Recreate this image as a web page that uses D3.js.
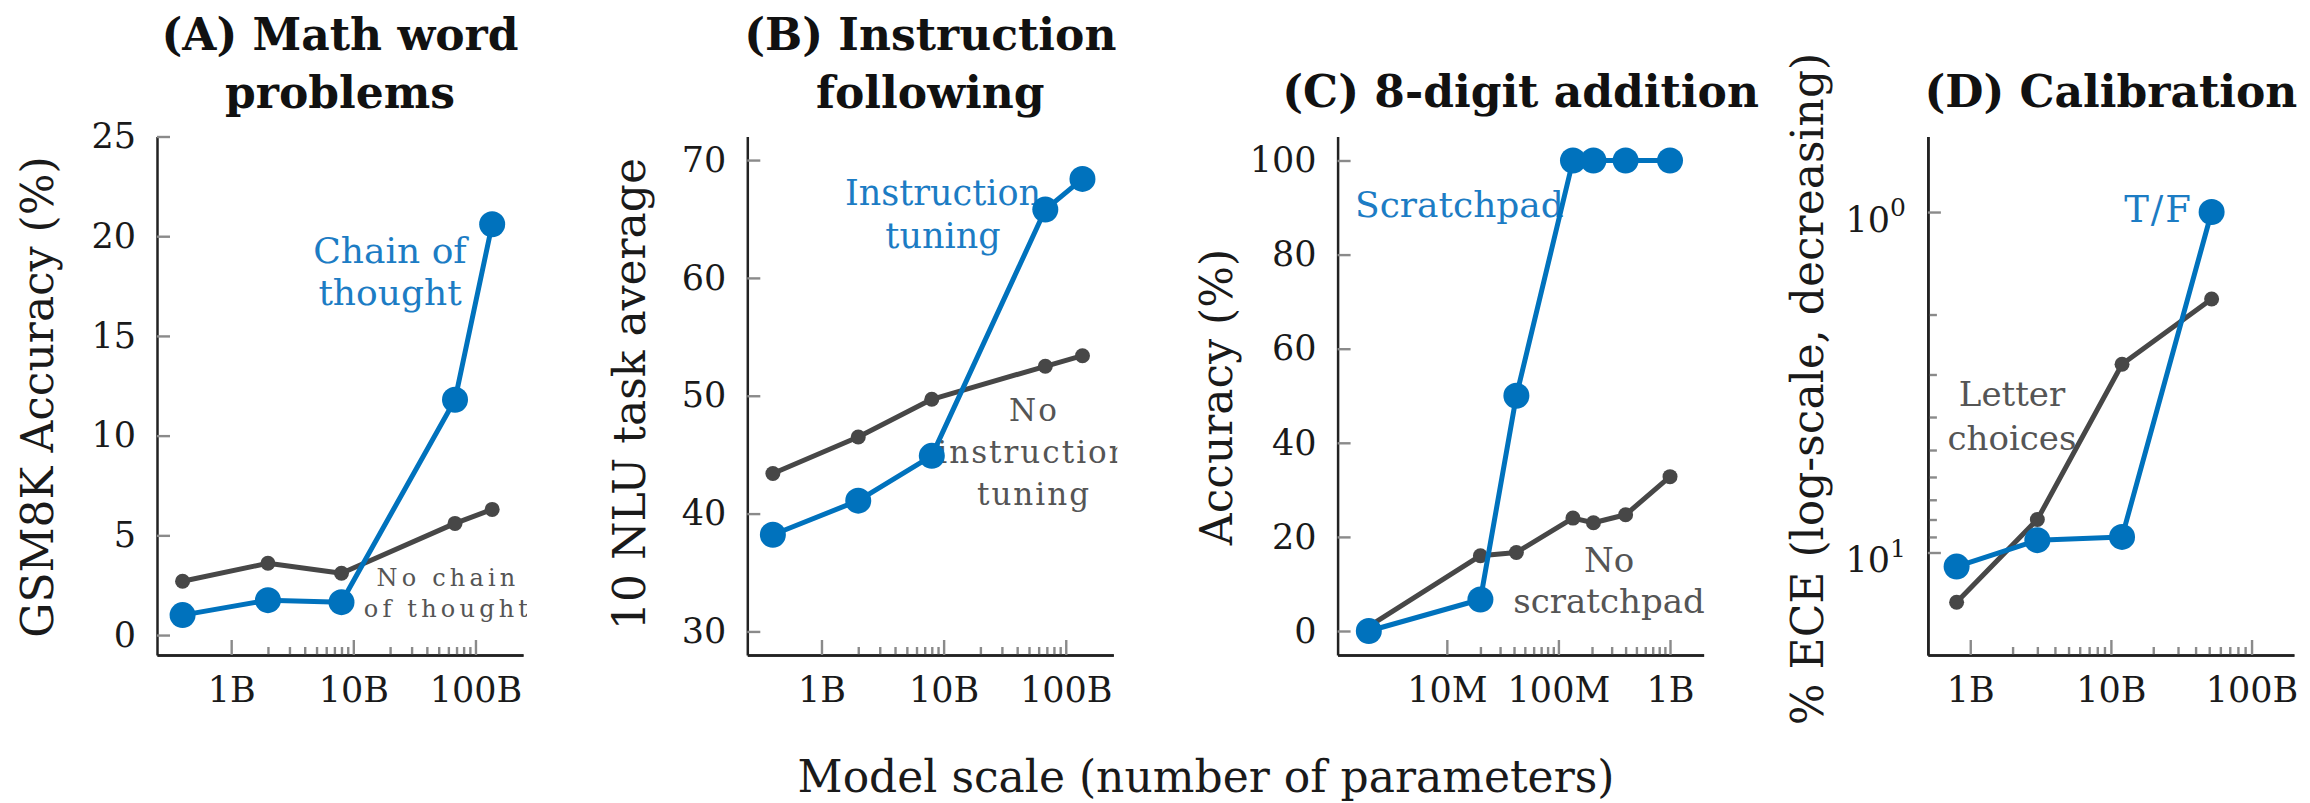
<!DOCTYPE html>
<html>
<head>
<meta charset="utf-8">
<script src="https://cdn.jsdelivr.net/npm/d3@7"></script>
<style>
  html, body { margin: 0; padding: 0; background: #fff; }
  svg { display: block; }
  text { font-family: "DejaVu Serif", serif; }
</style>
</head>
<body>
<svg id="fig" width="2310" height="803"></svg>
<script>
// ---------------- data ----------------
// (A) GSM8K accuracy vs LaMDA model size
const lamdaParams = [0.4e9, 2e9, 8e9, 68e9, 137e9];
const gsm8kChainOfThought = [1.0, 1.75, 1.65, 11.8, 20.6];
const gsm8kNoChainOfThought = [2.7, 3.6, 3.1, 5.6, 6.3];

// (B) average over 10 NLU tasks
const nluInstructionTuning = [38.2, 41.1, 44.9, 65.8, 68.4];
const nluNoInstructionTuning = [43.4, 46.5, 49.7, 52.5, 53.4];

// (C) 8-digit addition accuracy
const additionParams = [2e6, 2e7, 4.2e7, 1.35e8, 2.06e8, 4e8, 1e9];
const additionScratchpad = [0, 6.7, 50, 100, 100, 100, 100];
const additionNoScratchpad = [1, 16, 16.7, 24, 23, 24.7, 32.8];

// (D) calibration (% ECE, lower is better)
const calibrationParams = [0.8e9, 3e9, 12e9, 52e9];
const calibrationTrueFalse = [11.0, 9.2, 9.0, 1.0];
const calibrationLetterChoices = [14.0, 8.0, 2.8, 1.8];

// tick values and labels
const billionTicks = [1e9, 1e10, 1e11];
const billionTickLabels = ["1B", "10B", "100B"];
const millionTicks = [1e7, 1e8, 1e9];
const millionTickLabels = ["10M", "100M", "1B"];
const gsm8kTicks = [0, 5, 10, 15, 20, 25];
const nluTicks = [30, 40, 50, 60, 70];
const additionTicks = [0, 20, 40, 60, 80, 100];
const eceTicks = [1, 10];
const eceTickExponents = ["0", "1"];

// ---------------- styling ----------------
const BLUE = "#0072BD";
const BLUE_TEXT = "#1c7cc4";
const GRAY = "#474747";
const GRAY_TEXT = "#555555";
const INK = "#1a1a1a";
const TOP = 136.5, BOTTOM = 655, PANEL_W = 366;
const panelLeft = i => 157 + i * 590.3;

const panels = [
  {
    title: ["(A) Math word", "problems"],
    ylabel: "GSM8K Accuracy (%)", ylabelX: 53, ylabelY: 397,
    xDomain: [2.47e8, 2.45e11], xTicks: billionTicks, xTickLabels: billionTickLabels,
    yDomain: [-1, 25], yTicks: gsm8kTicks,
    params: lamdaParams, blue: gsm8kChainOfThought, gray: gsm8kNoChainOfThought,
    notes: [
      { lines: ["Chain of", "thought"], x: 390, y: [263, 305], size: 36, color: BLUE_TEXT, anchor: "middle", spacing: 0 },
      { lines: ["No chain", "of thought"], x: 448, y: [586, 617], size: 24, color: GRAY_TEXT, anchor: "middle", spacing: 4.2 }
    ]
  },
  {
    title: ["(B) Instruction", "following"],
    ylabel: "10 NLU task average", ylabelX: 645, ylabelY: 394,
    xDomain: [2.47e8, 2.45e11], xTicks: billionTicks, xTickLabels: billionTickLabels,
    yDomain: [28, 72], yTicks: nluTicks,
    params: lamdaParams, blue: nluInstructionTuning, gray: nluNoInstructionTuning,
    notes: [
      { lines: ["Instruction", "tuning"], x: 943, y: [205, 248], size: 35, color: BLUE_TEXT, anchor: "middle", spacing: 0 },
      { lines: ["No", "instruction", "tuning"], x: 1034, y: [421, 463, 505], size: 31, color: GRAY_TEXT, anchor: "middle", spacing: 2 }
    ]
  },
  {
    title: ["(C) 8-digit addition"],
    ylabel: "Accuracy (%)", ylabelX: 1232, ylabelY: 397,
    xDomain: [1.05e6, 2e9], xTicks: millionTicks, xTickLabels: millionTickLabels,
    yDomain: [-5.1, 105.1], yTicks: additionTicks,
    params: additionParams, blue: additionScratchpad, gray: additionNoScratchpad,
    notes: [
      { lines: ["Scratchpad"], x: 1355, y: [217], size: 36, color: BLUE_TEXT, anchor: "start", spacing: 0 },
      { lines: ["No", "scratchpad"], x: 1609, y: [572, 613], size: 34, color: GRAY_TEXT, anchor: "middle", spacing: 0 }
    ]
  },
  {
    title: ["(D) Calibration"],
    ylabel: "% ECE (log-scale, decreasing)", ylabelX: 1823, ylabelY: 389,
    xDomain: [5e8, 2e11], xTicks: billionTicks, xTickLabels: billionTickLabels,
    yLog: true, yDomain: [0.6, 20], yTicks: eceTicks,
    params: calibrationParams, blue: calibrationTrueFalse, gray: calibrationLetterChoices,
    notes: [
      { lines: ["T/F"], x: 2193, y: [222], size: 37, color: BLUE_TEXT, anchor: "end", spacing: 2 },
      { lines: ["Letter", "choices"], x: 2012, y: [406, 450], size: 34, color: GRAY_TEXT, anchor: "middle", spacing: 0 }
    ]
  }
];

const svg = d3.select("#fig");
const defs = svg.append("defs");

// minor ticks 2..9 within each decade between the first and last major tick
function minorTicks(majors) {
  const out = [];
  for (let i = 0; i < majors.length - 1; i++)
    for (let k = 2; k <= 9; k++) out.push(majors[i] * k);
  return out;
}

function styleAxis(g) {
  g.select(".domain").attr("stroke", "#222").attr("stroke-width", 2.5);
  g.selectAll(".tick line").attr("stroke", "#8a8a8a").attr("stroke-width", 2.4);
  g.selectAll(".tick text")
    .style("font-family", '"DejaVu Serif", serif')
    .style("font-size", "35px")
    .attr("fill", INK);
}

panels.forEach((p, i) => {
  const left = panelLeft(i), right = left + PANEL_W;
  const x = d3.scaleLog().domain(p.xDomain).range([left, right]);
  const y = p.yLog
    ? d3.scaleLog().domain(p.yDomain).range([TOP, BOTTOM])
    : d3.scaleLinear().domain(p.yDomain).range([BOTTOM, TOP]);

  const panel = svg.append("g").attr("class", "panel");

  // title
  const tx = (left + right) / 2;
  const titleBase = p.title.length === 2 ? [50, 108] : [107];
  p.title.forEach((line, k) => {
    panel.append("text")
      .attr("x", tx).attr("y", titleBase[k])
      .attr("text-anchor", "middle")
      .attr("font-weight", "bold")
      .attr("font-size", 44)
      .attr("fill", "#111")
      .text(line);
  });

  // y label
  panel.append("text")
    .attr("transform", `translate(${p.ylabelX},${p.ylabelY}) rotate(-90)`)
    .attr("text-anchor", "middle")
    .attr("font-size", 44)
    .attr("fill", INK)
    .text(p.ylabel);

  // x axis: minor ticks, then major ticks with labels
  panel.append("g")
    .attr("transform", `translate(0,${BOTTOM})`)
    .call(d3.axisBottom(x).tickValues(minorTicks(p.xTicks)).tickFormat("")
      .tickSizeInner(-8).tickSizeOuter(0))
    .call(styleAxis);
  panel.append("g")
    .attr("transform", `translate(0,${BOTTOM})`)
    .call(d3.axisBottom(x).tickValues(p.xTicks).tickFormat((d, k) => p.xTickLabels[k])
      .tickSizeInner(-15).tickSizeOuter(0).tickPadding(22))
    .call(styleAxis);

  // y axis
  if (p.yLog) {
    panel.append("g")
      .attr("transform", `translate(${left},0)`)
      .call(d3.axisLeft(y).tickValues(minorTicks(p.yTicks)).tickFormat("")
        .tickSizeInner(-9).tickSizeOuter(0))
      .call(styleAxis);
    const gy = panel.append("g")
      .attr("transform", `translate(${left},0)`)
      .call(d3.axisLeft(y).tickValues(p.yTicks).tickFormat("")
        .tickSizeInner(-13).tickSizeOuter(0).tickPadding(22))
      .call(styleAxis);
    gy.selectAll(".tick text").each(function (d, k) {
      const t = d3.select(this).attr("dy", "0.55em");
      t.append("tspan").text("10");
      t.append("tspan").attr("dy", "-0.62em").style("font-size", "25px").text(eceTickExponents[k]);
    });
  } else {
    panel.append("g")
      .attr("transform", `translate(${left},0)`)
      .call(d3.axisLeft(y).tickValues(p.yTicks).tickSizeInner(-13).tickSizeOuter(0).tickPadding(21))
      .call(styleAxis);
  }

  // annotations, clipped to the plotting area
  const clipId = `clip-${i}`;
  defs.append("clipPath").attr("id", clipId)
    .append("rect").attr("x", left).attr("y", 0).attr("width", PANEL_W + 4).attr("height", BOTTOM);
  const notes = panel.append("g").attr("clip-path", `url(#${clipId})`);
  p.notes.forEach(n => {
    n.lines.forEach((line, k) => {
      notes.append("text")
        .attr("x", n.x).attr("y", n.y[k])
        .attr("text-anchor", n.anchor)
        .attr("font-size", n.size)
        .attr("letter-spacing", n.spacing)
        .attr("fill", n.color)
        .text(line);
    });
  });

  // series
  const drawSeries = (values, color, r) => {
    const pts = p.params.map((v, k) => [v, values[k]]);
    panel.append("path")
      .attr("d", d3.line().x(d => x(d[0])).y(d => y(d[1]))(pts))
      .attr("fill", "none").attr("stroke", color).attr("stroke-width", 5)
      .attr("stroke-linejoin", "round");
    panel.append("g").selectAll("circle").data(pts).join("circle")
      .attr("cx", d => x(d[0])).attr("cy", d => y(d[1])).attr("r", r)
      .attr("fill", color);
  };
  drawSeries(p.gray, GRAY, 7.5);
  drawSeries(p.blue, BLUE, 13);
});

// shared x label
svg.append("text")
  .attr("x", 1206).attr("y", 792)
  .attr("text-anchor", "middle")
  .attr("font-size", 44)
  .attr("fill", INK)
  .text("Model scale (number of parameters)");
</script>
</body>
</html>
